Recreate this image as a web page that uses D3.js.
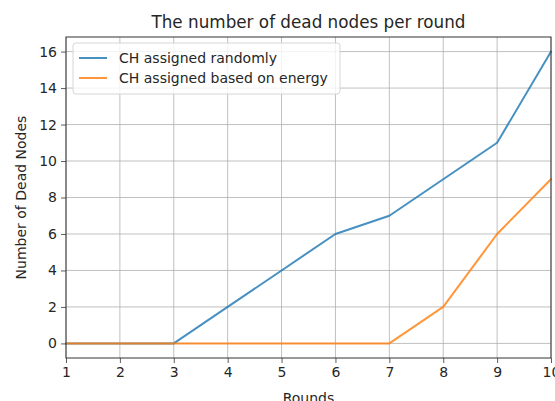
<!DOCTYPE html>
<html><head><meta charset="utf-8">
<script src="https://cdn.jsdelivr.net/npm/d3@7"></script>
<style>body{margin:0;background:#fff}svg{display:block;font-family:"DejaVu Sans",sans-serif}</style>
</head><body>
<script>
const rounds = [1,2,3,4,5,6,7,8,9,10];
const randomCH = [0,0,0,2,4,6,7,9,11,16];
const energyCH = [0,0,0,0,0,0,0,2,6,9];
const seriesNames = ["CH assigned randomly","CH assigned based on energy"];
const xTicks = [1,2,3,4,5,6,7,8,9,10];
const yTicks = [0,2,4,6,8,10,12,14,16];
const colors = ["#1f77b4","#ff7f0e"];

const W=555,H=401;
const m={left:66,right:4,top:37,bottom:43};
const svg=d3.select("body").append("svg").attr("width",W).attr("height",H);
const x=d3.scaleLinear().domain([1,10]).range([m.left,W-m.right]);
const y=d3.scaleLinear().domain([-0.8,16.8]).range([H-m.bottom,m.top]);

// grid
const g=svg.append("g");
g.selectAll(".gx").data(xTicks).join("line").attr("x1",d=>x(d)).attr("x2",d=>x(d))
 .attr("y1",m.top).attr("y2",H-m.bottom).attr("stroke","#b0b0b0").attr("stroke-width",0.8);
g.selectAll(".gy").data(yTicks).join("line").attr("y1",d=>y(d)).attr("y2",d=>y(d))
 .attr("x1",m.left).attr("x2",W-m.right).attr("stroke","#b0b0b0").attr("stroke-width",0.8);

// lines
const line=d3.line().x((d,i)=>x(rounds[i])).y(d=>y(d));
[randomCH,energyCH].forEach((s,k)=>{
  svg.append("path").datum(s).attr("d",line).attr("fill","none")
   .attr("stroke",colors[k]).attr("stroke-opacity",0.82).attr("stroke-width",2).attr("stroke-linejoin","round").attr("stroke-linecap","square");
});

// axes
const xa=svg.append("g").attr("transform",`translate(0,${H-m.bottom})`)
 .call(d3.axisBottom(x).tickValues(xTicks).tickSize(5).tickPadding(4).tickFormat(d3.format("d")));
const ya=svg.append("g").attr("transform",`translate(${m.left},0)`)
 .call(d3.axisLeft(y).tickValues(yTicks).tickSize(5).tickPadding(4).tickFormat(d3.format("d")));
[xa,ya].forEach(a=>{a.select(".domain").remove();
 a.selectAll("text").attr("font-size",14).attr("font-family","DejaVu Sans").attr("fill","#262626");
 a.selectAll("line").attr("stroke","#333").attr("stroke-width",0.8);});
// spines
svg.append("rect").attr("x",m.left).attr("y",m.top).attr("width",W-m.right-m.left)
 .attr("height",H-m.bottom-m.top).attr("fill","none").attr("stroke","#333").attr("stroke-width",1);

// title & labels
svg.append("text").attr("x",(m.left+W-m.right)/2).attr("y",28).attr("text-anchor","middle")
 .attr("font-size",16.8).attr("fill","#262626").text("The number of dead nodes per round");
svg.append("text").attr("x",(m.left+W-m.right)/2).attr("y",403).attr("text-anchor","middle")
 .attr("font-size",14).attr("fill","#262626").text("Rounds");
svg.append("text").attr("transform",`translate(26,${(m.top+H-m.bottom)/2}) rotate(-90)`)
 .attr("text-anchor","middle").attr("font-size",14).attr("fill","#262626").text("Number of Dead Nodes");

// legend
const lg=svg.append("g").attr("transform",`translate(${m.left+7},${m.top+6})`);
lg.append("rect").attr("width",267).attr("height",51).attr("rx",3).attr("fill","#fff")
 .attr("fill-opacity",0.8).attr("stroke","#d6d6d6").attr("stroke-width",1);
seriesNames.forEach((n,k)=>{
  const yy=15+k*20;
  lg.append("line").attr("x1",6).attr("x2",34).attr("y1",yy).attr("y2",yy)
   .attr("stroke",colors[k]).attr("stroke-opacity",0.82).attr("stroke-width",2);
  lg.append("text").attr("x",46).attr("y",yy+5).attr("font-size",14).attr("fill","#262626").text(n);
});
</script>
</body></html>
